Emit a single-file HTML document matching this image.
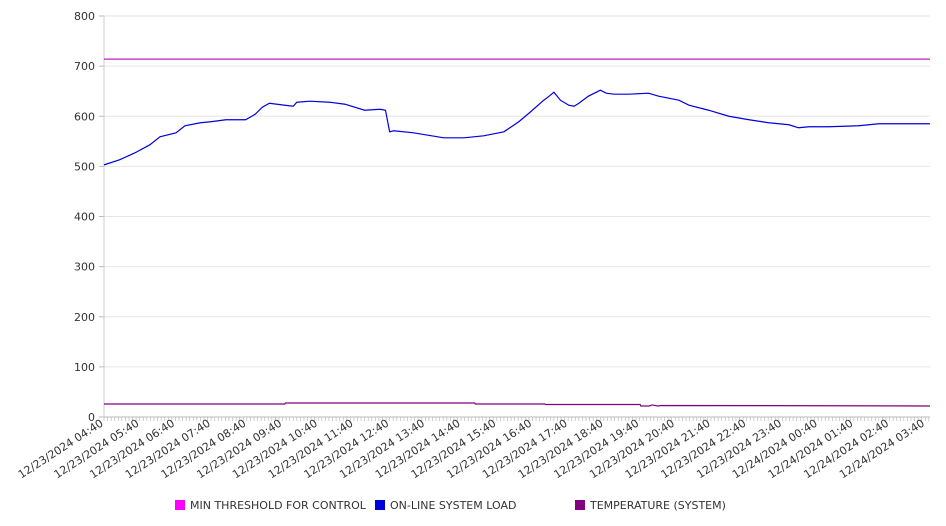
<!DOCTYPE html>
<html><head><meta charset="utf-8"><style>
body{margin:0;background:#fff;}
svg{display:block;font-family:"DejaVu Sans","Liberation Sans",sans-serif;}
</style></head><body>
<svg id="chart" width="946" height="526"></svg>
<script>
const yTicks=[0,100,200,300,400,500,600,700,800];
const hourLabels=["12/23/2024 04:40","12/23/2024 05:40","12/23/2024 06:40","12/23/2024 07:40","12/23/2024 08:40","12/23/2024 09:40","12/23/2024 10:40","12/23/2024 11:40","12/23/2024 12:40","12/23/2024 13:40","12/23/2024 14:40","12/23/2024 15:40","12/23/2024 16:40","12/23/2024 17:40","12/23/2024 18:40","12/23/2024 19:40","12/23/2024 20:40","12/23/2024 21:40","12/23/2024 22:40","12/23/2024 23:40","12/24/2024 00:40","12/24/2024 01:40","12/24/2024 02:40","12/24/2024 03:40"];
const loadMinutes=[0,26,52,77,94,121,136,162,179,205,238,254,266,278,304,318,324,346,379,405,438,464,473,480,487,520,571,605,638,672,697,714,739,748,756,767,781,790,798,814,834,844,857,882,915,932,966,983,1016,1050,1084,1117,1151,1167,1185,1218,1268,1302,1388];
const loadValues=[503,513,527,543,559,567,581,587,589,593,593,604,618,626,622,620,628,630,628,624,612,614,612,569,571,567,557,557,561,569,589,606,632,640,648,632,622,620,626,640,652,646,644,644,646,640,632,622,612,600,593,587,583,577,579,579,581,585,585];
const thresholdMinutes=[0,1388];
const thresholdValues=[714,714];
const tempMinutes=[0,304,305,623,624,741,742,901,902,916,921,931,936,1388];
const tempValues=[26,26,28,28,26,26,25,25,22,22,24,22,23,22];
const legendNames=["MIN THRESHOLD FOR CONTROL","ON-LINE SYSTEM LOAD","TEMPERATURE (SYSTEM)"];
const legendColors=["#ff00ff","#0000dd","#800080"];

const svg=document.getElementById('chart');
const NS='http://www.w3.org/2000/svg';
const L=104,R=930,T=16,B=417,TMAX=1388,YMAX=800;
const xs=m=>L+m/TMAX*(R-L);
const ys=v=>B-v/YMAX*(B-T);
function mk(tag,attrs){const e=document.createElementNS(NS,tag);for(const k in attrs)e.setAttribute(k,attrs[k]);svg.appendChild(e);return e;}

yTicks.forEach(v=>{
  const g=mk('line',{x1:L,x2:R,y1:ys(v),y2:ys(v),stroke:v===0?'#bbb':'#e6e6e6','stroke-width':1});
  
  
  const t=mk('line',{x1:L-5,x2:L,y1:ys(v),y2:ys(v),stroke:'#bbb'});
  
  
  const tx=mk('text',{x:95,y:ys(v)+4,'text-anchor':'end','font-size':11,fill:'#333'});
  tx.textContent=v;
  
  
});
const ya=mk('line',{x1:L,x2:L,y1:T,y2:B,stroke:'#ccc'});


for(let m=0;m<=TMAX;m+=6){
  const t=mk('line',{x1:xs(m),x2:xs(m),y1:B,y2:B+4,stroke:'#bbb','stroke-width':0.7});
  
  
}
hourLabels.forEach((lab,i)=>{
  const x=xs(i*60),y=B+8;
  const tx=mk('text',{x:x,y:y,'text-anchor':'end','font-size':11,fill:'#333',transform:`rotate(-33 ${x} ${y})`});
  tx.textContent=lab;
  
  
});
function series(mins,vals,color,name){
  const p=mk('polyline',{points:mins.map((m,i)=>xs(m)+','+ys(vals[i])).join(' '),fill:'none',stroke:color,'stroke-width':1.2});
  
  
}
series(thresholdMinutes,thresholdValues,'#c020c0','threshold-line');
series(tempMinutes,tempValues,'#800080','temperature-line');
series(loadMinutes,loadValues,'#0000dd','load-line');
const lx=[175,375,575];
legendNames.forEach((n,i)=>{
  const r=mk('rect',{x:lx[i],y:500,width:10,height:10,fill:legendColors[i]});
  
  
  const t=mk('text',{x:lx[i]+15,y:509,'font-size':11,fill:'#333'});
  t.textContent=n;
  
  
});
</script>
</body></html>
